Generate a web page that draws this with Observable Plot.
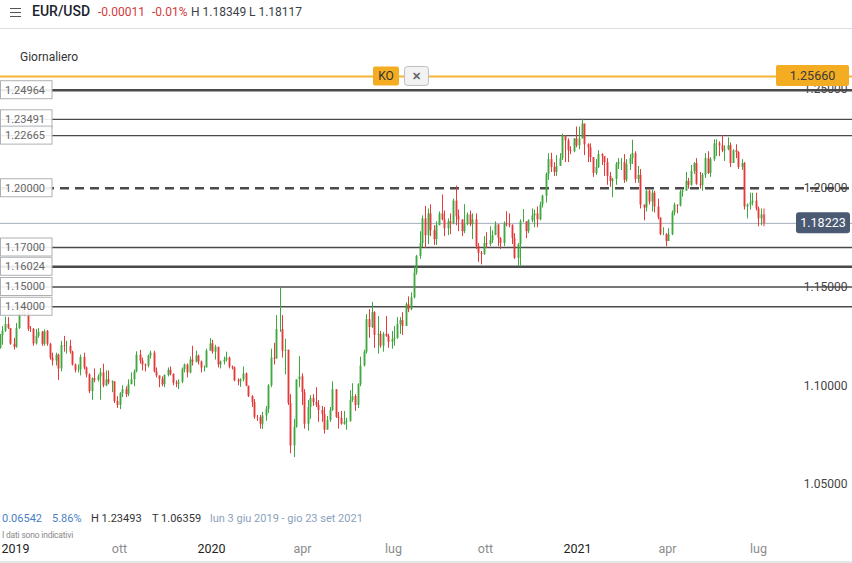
<!DOCTYPE html>
<html><head><meta charset="utf-8">
<script src="https://cdn.jsdelivr.net/npm/d3@7"></script>
<script src="https://cdn.jsdelivr.net/npm/@observablehq/plot@0.6"></script>
<style>
body{margin:0;background:#fff;font-family:Roboto,"Noto Sans",sans-serif;}
#wrap{position:relative;width:852px;height:563px;overflow:hidden;}
.abs{position:absolute;white-space:nowrap;line-height:1;}
.bar{position:absolute;left:10px;width:11px;height:1.6px;background:#555;}
</style></head><body><div id="wrap"></div>
<script>
// ---- data (EUR/USD, one candle per two trading days, from Mon 3 Jun 2019) ----
const firstOpen = 1.1190;
const closes = [
1.1253,1.1276,1.1310,1.1290,1.1210, 1.1195,1.1290,1.1398,1.1368,1.1370,
1.1286,1.1285,1.1212,1.1250,1.1270, 1.1210,1.1275,1.1210,1.1140,1.1125,
1.1155,1.1085,1.1203,1.1200,1.1200, 1.1170,1.1105,1.1078,1.1080,1.1143,
1.1090,1.1055,1.0970,1.1035,1.1027, 1.1045,1.1065,1.1000,1.1030,1.1015,
1.1020,1.0920,1.0900,1.0960,1.0980, 1.0955,1.1005,1.1030,1.1070,1.1155,
1.1125,1.1105,1.1100,1.1150,1.1165, 1.1070,1.1050,1.1032,1.1005,1.1052,
1.1078,1.1058,1.1012,1.1008,1.1018, 1.1082,1.1105,1.1065,1.1130,1.1120,
1.1150,1.1120,1.1090,1.1090,1.1175, 1.1212,1.1170,1.1195,1.1105,1.1120,
1.1130,1.1140,1.1095,1.1090,1.1025, 1.1020,1.1030,1.1060,1.0998,1.0945,
1.0915,1.0840,1.0838,1.0805,1.0847, 1.0880,1.1000,1.1140,1.1135,1.1285,
1.1285,1.1175,1.1180,1.0910,1.0695, 1.0790,1.1030,1.1045,1.0965,1.0805,
1.0890,1.0935,1.0915,1.0900,1.0875, 1.0855,1.0775,1.0825,1.0875,1.0980,
1.0840,1.0835,1.0805,1.0815,1.0820, 1.0925,1.0945,1.0900,1.1005,1.1100,
1.1170,1.1335,1.1295,1.1370,1.1255, 1.1260,1.1200,1.1260,1.1250,1.1220,
1.1235,1.1240,1.1310,1.1330,1.1300, 1.1410,1.1385,1.1445,1.1570,1.1655,
1.1720,1.1845,1.1760,1.1870,1.1785, 1.1740,1.1810,1.1870,1.1840,1.1795,
1.1830,1.1820,1.1935,1.1855,1.1840, 1.1780,1.1815,1.1865,1.1815,1.1840,
1.1705,1.1670,1.1665,1.1720,1.1715, 1.1735,1.1760,1.1815,1.1745,1.1720,
1.1820,1.1815,1.1810,1.1745,1.1645, 1.1715,1.1830,1.1830,1.1780,1.1835,
1.1860,1.1870,1.1840,1.1915,1.1960, 1.2070,1.2145,1.2105,1.2080,1.2110,
1.2150,1.2265,1.2240,1.2190,1.2185, 1.2250,1.2215,1.2250,1.2325,1.2220,
1.2205,1.2155,1.2075,1.2105,1.2170, 1.2160,1.2130,1.2060,1.2035,1.2045,
1.2120,1.2130,1.2130,1.2040,1.2120, 1.2150,1.2175,1.2045,1.2065,1.1915,
1.1900,1.1985,1.1930,1.1975,1.1905, 1.1850,1.1765,1.1765,1.1730,1.1765,
1.1875,1.1915,1.1910,1.1980,1.1985, 1.2035,1.2015,1.2085,1.2125,1.2020,
1.2015,1.2065,1.2150,1.2075,1.2145, 1.2225,1.2225,1.2215,1.2190,1.2195,
1.2215,1.2125,1.2190,1.2180,1.2105, 1.2125,1.1905,1.1915,1.1925,1.1935,
1.1895,1.1845,1.1865,1.1822];
const highs = [
1.1260,1.1300,1.1348,1.1345,1.1290, 1.1240,1.1315,1.1405,1.1412,1.1395,
1.1380,1.1300,1.1290,1.1285,1.1290, 1.1275,1.1283,1.1280,1.1215,1.1165,
1.1165,1.1160,1.1225,1.1250,1.1225, 1.1230,1.1175,1.1110,1.1105,1.1155,
1.1165,1.1095,1.1060,1.1040,1.1085, 1.1055,1.1087,1.1109,1.1075,1.1075,
1.1025,1.1020,1.0945,1.0965,1.1000, 1.0995,1.1030,1.1065,1.1080,1.1172,
1.1179,1.1140,1.1110,1.1155,1.1175, 1.1175,1.1090,1.1040,1.1045,1.1055,
1.1090,1.1095,1.1060,1.1025,1.1030, 1.1090,1.1110,1.1110,1.1145,1.1200,
1.1175,1.1155,1.1125,1.1100,1.1185, 1.1239,1.1230,1.1205,1.1160,1.1125,
1.1145,1.1170,1.1145,1.1100,1.1095, 1.1035,1.1035,1.1095,1.1065,1.0990,
1.0950,1.0930,1.0850,1.0850,1.0865, 1.0895,1.1005,1.1185,1.1215,1.1355,
1.1495,1.1355,1.1235,1.1055,1.0955, 1.0830,1.1030,1.1147,1.1060,1.0980,
1.0925,1.0950,1.0955,1.0990,1.0925, 1.0895,1.0890,1.0845,1.0890,1.1020,
1.0975,1.0865,1.0870,1.0870,1.0835, 1.0975,1.1010,1.0955,1.1010,1.1145,
1.1180,1.1360,1.1385,1.1422,1.1375, 1.1350,1.1275,1.1270,1.1350,1.1260,
1.1275,1.1300,1.1345,1.1345,1.1370, 1.1420,1.1450,1.1470,1.1600,1.1660,
1.1780,1.1860,1.1908,1.1895,1.1916, 1.1810,1.1830,1.1880,1.1966,1.1885,
1.1845,1.1870,1.1945,1.2011,1.1890, 1.1835,1.1917,1.1875,1.1885,1.1870,
1.1870,1.1720,1.1680,1.1755,1.1775, 1.1805,1.1785,1.1830,1.1815,1.1750,
1.1830,1.1881,1.1870,1.1815,1.1770, 1.1720,1.1840,1.1892,1.1830,1.1840,
1.1895,1.1890,1.1905,1.1930,1.1965, 1.2077,1.2175,1.2177,1.2130,1.2165,
1.2175,1.2273,1.2260,1.2250,1.2210, 1.2250,1.2310,1.2310,1.2349,1.2300,
1.2225,1.2225,1.2110,1.2145,1.2190, 1.2175,1.2145,1.2150,1.2080,1.2050,
1.2130,1.2150,1.2150,1.2170,1.2145, 1.2170,1.2243,1.2185,1.2110,1.2095,
1.1915,1.1990,1.1990,1.1990,1.1985, 1.1945,1.1825,1.1800,1.1770,1.1795,
1.1885,1.1925,1.1915,1.1990,1.1995, 1.2080,1.2050,1.2115,1.2130,1.2150,
1.2080,1.2075,1.2175,1.2185,1.2155, 1.2245,1.2245,1.2235,1.2266,1.2215,
1.2255,1.2230,1.2195,1.2220,1.2185, 1.2145,1.2130,1.1920,1.1975,1.1975,
1.1975,1.1905,1.1895,1.1895];
const lows = [
1.1185,1.1205,1.1270,1.1285,1.1205, 1.1181,1.1190,1.1285,1.1355,1.1350,
1.1275,1.1270,1.1200,1.1206,1.1240, 1.1200,1.1200,1.1200,1.1130,1.1100,
1.1100,1.1027,1.1070,1.1170,1.1160, 1.1160,1.1100,1.1065,1.1065,1.1050,
1.1080,1.1040,1.0960,1.0926,1.1015, 1.1020,1.0927,1.0990,1.0995,1.1005,
1.0965,1.0910,1.0885,1.0879,1.0940, 1.0940,1.0945,1.1010,1.0995,1.1065,
1.1110,1.1075,1.1070,1.1090,1.1135, 1.1065,1.1040,1.0990,1.0995,1.0990,
1.1045,1.1050,1.1000,1.0990,1.0981, 1.1010,1.1065,1.1040,1.1060,1.1100,
1.1115,1.1105,1.1065,1.1070,1.1090, 1.1175,1.1160,1.1130,1.1090,1.1085,
1.1105,1.1120,1.1085,1.1080,1.1020, 1.1000,1.0992,1.1020,1.0995,1.0940,
1.0890,1.0830,1.0820,1.0780,1.0778, 1.0820,1.0860,1.0990,1.1105,1.1170,
1.1270,1.1140,1.1055,1.0900,1.0655, 1.0636,1.0785,1.0990,1.0900,1.0780,
1.0770,1.0830,1.0895,1.0890,1.0815, 1.0815,1.0755,1.0800,1.0815,1.0870,
1.0835,1.0780,1.0800,1.0800,1.0775, 1.0815,1.0915,1.0870,1.0885,1.0995,
1.1095,1.1160,1.1240,1.1290,1.1190, 1.1160,1.1190,1.1170,1.1245,1.1190,
1.1185,1.1200,1.1235,1.1260,1.1255, 1.1315,1.1370,1.1380,1.1440,1.1560,
1.1640,1.1700,1.1695,1.1715,1.1755, 1.1710,1.1710,1.1825,1.1835,1.1755,
1.1760,1.1765,1.1815,1.1810,1.1780, 1.1755,1.1770,1.1810,1.1805,1.1740,
1.1690,1.1625,1.1612,1.1660,1.1695, 1.1705,1.1720,1.1760,1.1705,1.1690,
1.1705,1.1805,1.1800,1.1715,1.1640, 1.1603,1.1602,1.1825,1.1745,1.1770,
1.1825,1.1800,1.1800,1.1835,1.1900, 1.1925,1.2040,1.2080,1.2060,1.2060,
1.2110,1.2140,1.2130,1.2130,1.2170, 1.2180,1.2205,1.2195,1.2250,1.2165,
1.2130,1.2130,1.2055,1.2065,1.2100, 1.2115,1.2060,1.2015,1.2005,1.1952,
1.2015,1.2095,1.2090,1.2025,1.2030, 1.2090,1.2120,1.2025,1.2025,1.1895,
1.1835,1.1880,1.1915,1.1880,1.1875, 1.1840,1.1760,1.1760,1.1704,1.1735,
1.1760,1.1860,1.1870,1.1905,1.1955, 1.1985,1.1995,1.2010,1.2070,1.2015,
1.1995,1.1985,1.2050,1.2070,1.2055, 1.2135,1.2160,1.2160,1.2180,1.2135,
1.2190,1.2105,1.2145,1.2150,1.2095, 1.2090,1.1890,1.1845,1.1890,1.1910,
1.1885,1.1805,1.1810,1.1805];

const levelPrices = [1.24964, 1.23491, 1.22665, 1.20000, 1.17000, 1.16024, 1.15000, 1.14000];
const koPrice = 1.25660;
const lastPrice = 1.18223;
const yTickValues = [1.05, 1.10, 1.15, 1.20, 1.25];
const xTickDates = ["2019-06-04","2019-10-01","2020-01-01","2020-04-01","2020-07-01","2020-10-01","2021-01-01","2021-04-01","2021-07-01"];
const xTickLabels = ["2019","ott","2020","apr","lug","ott","2021","apr","lug"];

// ---- build candles ----
const days = d3.utcDay.range(new Date(Date.UTC(2019,5,3)), new Date(Date.UTC(2021,6,7)))
  .filter(d => d.getUTCDay() > 0 && d.getUTCDay() < 6);
const candles = closes.map((c, i) => {
  const a = days[Math.min(2*i, days.length-1)];
  const b = days[Math.min(2*i+1, days.length-1)];
  const t = new Date((+a + +d3.utcDay.offset(b, 1)) / 2);
  const open = i === 0 ? firstOpen : closes[i-1];
  return {t, open, close: c, high: Math.max(highs[i], open, c), low: Math.min(lows[i], open, c)};
});
const up = candles.filter(d => d.close >= d.open);
const down = candles.filter(d => d.close < d.open);
const GREEN = "#3fa83f", RED = "#e43b3b";

const thick = new Set([1.24964, 1.16024]);
const dashed = new Set([1.20000]);
const thinLevels = levelPrices.filter(v => !thick.has(v) && !dashed.has(v));
const thickLevels = levelPrices.filter(v => thick.has(v));
const dashLevels = levelPrices.filter(v => dashed.has(v));
const xTicks = xTickDates.map((d, i) => ({date: new Date(d + "T00:00:00Z"), label: xTickLabels[i], year: /^\d{4}$/.test(xTickLabels[i])}));

const chart = Plot.plot({
  width: 852, height: 563,
  marginLeft: 0, marginRight: 0, marginTop: 0, marginBottom: 0,
  style: {background: "transparent", fontFamily: "Roboto, 'Noto Sans', sans-serif", overflow: "visible"},
  x: {type: "utc", domain: [new Date(Date.UTC(2020,0,1)), new Date(Date.UTC(2021,0,1))], range: [211, 577], axis: null},
  y: {domain: [1.05, 1.25], range: [484, 89], axis: null},
  marks: [
    Plot.ruleY([lastPrice], {stroke: "#a3adbd", strokeWidth: 1}),
    Plot.ruleY(thinLevels, {stroke: "#4a4a4a", strokeWidth: 1.3}),
    Plot.ruleY(thickLevels, {stroke: "#4a4a4a", strokeWidth: 2.6}),
    Plot.ruleY(dashLevels, {stroke: "#4a4a4a", strokeWidth: 2.4, strokeDasharray: "9,6"}),
    Plot.ruleY([koPrice], {stroke: "#f5b336", strokeWidth: 2}),
    Plot.ruleX(up, {x: "t", y1: "low", y2: "high", stroke: GREEN, strokeWidth: 1}),
    Plot.ruleX(down, {x: "t", y1: "low", y2: "high", stroke: RED, strokeWidth: 1}),
    Plot.ruleX(up, {x: "t", y1: "open", y2: "close", stroke: GREEN, strokeWidth: 2.6, strokeOpacity: 0.55}),
    Plot.ruleX(down, {x: "t", y1: "open", y2: "close", stroke: RED, strokeWidth: 2.6, strokeOpacity: 0.55}),
    Plot.text(yTickValues, {y: d => d, frameAnchor: "right", dx: -5, text: d => d.toFixed(5), textAnchor: "end", fontSize: 12, fill: "#444"}),
    Plot.text(xTicks.filter((d, i) => i === 0), {x: "date", text: "label", frameAnchor: "bottom", dy: -11, textAnchor: "start", dx: 1, fontSize: 12.5, fill: "#222"}),
    Plot.text(xTicks.filter((d, i) => i > 0 && d.year), {x: "date", text: "label", frameAnchor: "bottom", dy: -11, fontSize: 12.5, fill: "#222"}),
    Plot.text(xTicks.filter((d, i) => i > 0 && !d.year), {x: "date", text: "label", frameAnchor: "bottom", dy: -11, fontSize: 12.5, fill: "#8c8c8c"})
  ]
});

const wrap = document.getElementById("wrap");
chart.style.position = "absolute";
chart.style.left = "0px";
chart.style.top = "0px";
wrap.appendChild(chart);

// overlay labels positioned through the Plot y scale
const ys = chart.scale("y");
const svg = d3.select(chart);
const g = svg.append("g").attr("font-family", "Roboto, 'Noto Sans', sans-serif").attr("text-anchor", "start");
levelPrices.forEach(v => {
  const y = ys.apply(v);
  g.append("rect").attr("x", 0.5).attr("y", y - 9).attr("width", 51.5).attr("height", 18)
    .attr("fill", "#fff").attr("fill-opacity", 0.9).attr("stroke", "#aeb0b3").attr("stroke-width", 1);
  g.append("text").attr("x", 5).attr("y", y).attr("dy", "0.36em").attr("text-anchor", "start").attr("font-size", 11).attr("fill", "#666").text(v.toFixed(5));
});
// last price label
{
  const y = ys.apply(lastPrice);
  g.append("rect").attr("x", 796).attr("y", y - 10.5).attr("width", 54).attr("height", 21).attr("rx", 3).attr("fill", "#4b5a73");
  g.append("text").attr("x", 823).attr("y", y).attr("dy", "0.36em").attr("text-anchor", "middle").attr("font-size", 12.5).attr("fill", "#fff").text(lastPrice.toFixed(5));
}
// KO level labels
{
  const y = ys.apply(koPrice);
  g.append("rect").attr("x", 776).attr("y", y - 11).attr("width", 73).attr("height", 21).attr("rx", 2).attr("fill", "#f4ac22");
  g.append("text").attr("x", 812.5).attr("y", y).attr("dy", "0.36em").attr("text-anchor", "middle").attr("font-size", 12.5).attr("fill", "#3a3a3a").text(koPrice.toFixed(5));
  g.append("rect").attr("x", 373).attr("y", y - 9.5).attr("width", 26).attr("height", 19).attr("rx", 2).attr("fill", "#f4ac22");
  g.append("text").attr("x", 386).attr("y", y).attr("dy", "0.36em").attr("text-anchor", "middle").attr("font-size", 12).attr("fill", "#333").text("KO");
  g.append("rect").attr("x", 404.5).attr("y", y - 9.5).attr("width", 24).attr("height", 19).attr("rx", 3).attr("fill", "#f2f2f2").attr("stroke", "#bdbdbd");
  g.append("text").attr("x", 416.5).attr("y", y).attr("dy", "0.36em").attr("text-anchor", "middle").attr("font-size", 11).attr("font-weight", 700).attr("fill", "#666").text("✕");
}

// HTML header / footer text
function addText(txt, left, cy, size, color, weight) {
  const el = document.createElement("div");
  el.className = "abs";
  el.textContent = txt;
  el.style.left = left + "px";
  el.style.top = (cy - size * 0.55) + "px";
  el.style.fontSize = size + "px";
  el.style.color = color;
  if (weight) el.style.fontWeight = weight;
  wrap.appendChild(el);
  return el;
}
[7.5, 11.5, 15.5].forEach(t => { const b = document.createElement("div"); b.className = "bar"; b.style.top = t + "px"; wrap.appendChild(b); });
addText("EUR/USD", 32, 12, 14, "#1b2430", 500);
addText("-0.00011", 98, 13, 12, "#d23a3c");
addText("-0.01%", 152, 13, 12, "#d23a3c");
addText("H 1.18349", 191, 13, 12, "#3a3f47");
addText("L 1.18117", 249, 13, 12, "#3a3f47");
const hr = document.createElement("div");
hr.style.cssText = "position:absolute;left:0;top:28px;width:852px;height:1px;background:#d9dee2;";
wrap.appendChild(hr);
addText("Giornaliero", 20, 58, 12, "#333");
addText("0.06542", 2, 519, 11, "#4a7fc4");
addText("5.86%", 52, 519, 11, "#4a7fc4");
addText("H 1.23493", 91, 519, 11, "#333");
addText("T 1.06359", 152, 519, 11, "#333");
addText("lun 3 giu 2019 - gio 23 set 2021", 210, 519, 11, "#8aa2bd");
const note = addText("I dati sono indicativi", 2, 536, 8.5, "#8a8a8a");
note.style.letterSpacing = "-0.2px";
const bb = document.createElement("div");
bb.style.cssText = "position:absolute;left:0;top:561px;width:852px;height:2px;background:#e2e9e9;";
wrap.appendChild(bb);
</script></body></html>
